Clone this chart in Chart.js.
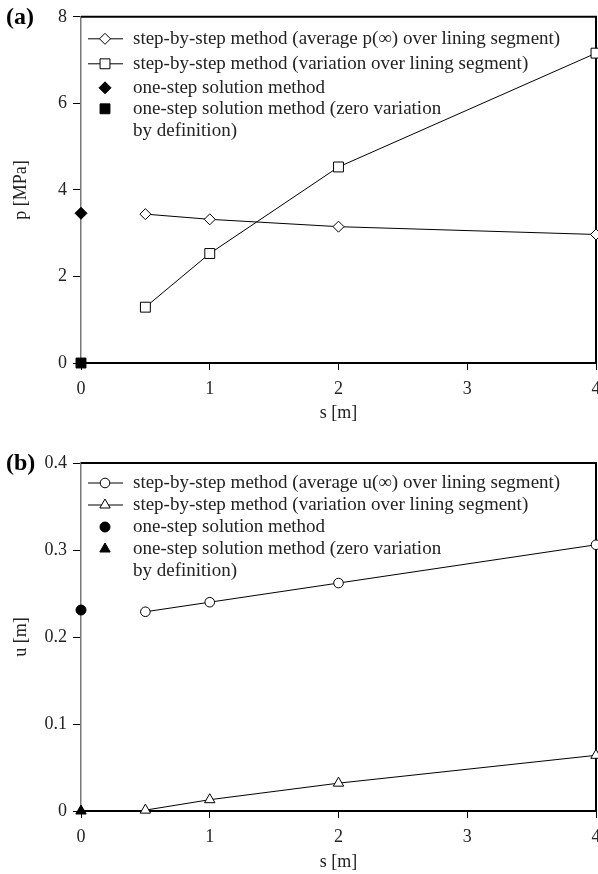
<!DOCTYPE html>
<html>
<head>
<meta charset="utf-8">
<script src="https://cdn.jsdelivr.net/npm/chart.js@4/dist/chart.umd.min.js"></script>
<style>
  html, body { margin: 0; padding: 0; background: #fff; }
  canvas { display: block; }
</style>
</head>
<body>
<canvas id="chartP" width="598" height="437"></canvas>
<canvas id="chartU" width="598" height="437"></canvas>
<script>
// DATA
const sTicks = [0, 1, 2, 3, 4];
const sSteps = [0.5, 1, 2, 4];
const sOneStep = [0];

const pTicks = [0, 2, 4, 6, 8];
const pAverage = [3.44, 3.32, 3.15, 2.97];
const pVariation = [1.29, 2.53, 4.53, 7.16];
const pOneStep = [3.46];
const pOneStepZero = [0];

const uTicks = [0, 0.1, 0.2, 0.3, 0.4];
const uAverage = [0.229, 0.240, 0.262, 0.306];
const uVariation = [0.001, 0.013, 0.032, 0.064];
const uOneStep = [0.231];
const uOneStepZero = [0];

const pLabels = [
  "step-by-step method (average p(\u221e) over lining segment)",
  "step-by-step method (variation over lining segment)",
  "one-step solution method",
  "one-step solution method (zero variation\nby definition)"
];
const uLabels = [
  "step-by-step method (average u(\u221e) over lining segment)",
  "step-by-step method (variation over lining segment)",
  "one-step solution method",
  "one-step solution method (zero variation\nby definition)"
];

const FONT = '"Liberation Serif", "Times New Roman", serif';

function pts(xs, ys) {
  return ys.map((y, i) => ({ x: xs[i], y: y }));
}

// frame (top/right), panel letter and in-plot legend
const framePlugin = {
  id: "frame",
  beforeDatasetsDraw(chart, args, opts) {
    const { ctx, chartArea: a } = chart;
    ctx.save();
    ctx.strokeStyle = "#000";
    ctx.lineWidth = 2;
    ctx.beginPath();
    ctx.moveTo(a.left, a.top);
    ctx.lineTo(a.right, a.top);
    ctx.lineTo(a.right, a.bottom);
    ctx.stroke();

    ctx.fillStyle = "#000";
    ctx.font = "bold 24px " + FONT;
    ctx.textBaseline = "middle";
    ctx.textAlign = "left";
    ctx.fillText(opts.panel, 6, a.top + 1);

    ctx.font = "19px " + FONT;
    let row = 0;
    chart.data.datasets.forEach(ds => {
      const y = a.top + opts.rows[row];
      if (ds.showLine) {
        ctx.strokeStyle = "#000";
        ctx.lineWidth = 1;
        ctx.beginPath();
        ctx.moveTo(88, y);
        ctx.lineTo(123, y);
        ctx.stroke();
      }
      ctx.fillStyle = ds.pointBackgroundColor;
      ctx.strokeStyle = "#000";
      ctx.lineWidth = 1;
      Chart.helpers.drawPoint(ctx, {
        pointStyle: ds.pointStyle,
        radius: ds.pointRadius,
        rotation: 0,
        borderWidth: 1
      }, 105, y);
      ctx.fillStyle = "#222";
      ds.label.split("\n").forEach(line => {
        ctx.fillText(line, 133, a.top + opts.rows[row]);
        row++;
      });
    });
    ctx.restore();
  }
};

function makeChart(id, cfg) {
  return new Chart(document.getElementById(id), {
    type: "scatter",
    data: { datasets: cfg.datasets },
    plugins: [framePlugin],
    options: {
      responsive: false,
      animation: false,
      events: [],
      layout: { autoPadding: false, padding: { top: cfg.top, right: 2, left: 0, bottom: 0 } },
      plugins: {
        legend: { display: false },
        tooltip: { enabled: false },
        frame: { panel: cfg.panel, rows: cfg.rows }
      },
      scales: {
        x: {
          type: "linear",
          min: 0,
          max: 4,
          afterBuildTicks: s => { s.ticks = sTicks.map(v => ({ value: v })); },
          afterFit: s => {
            s.height = cfg.xHeight;
            s.paddingLeft = 0;
            s.paddingRight = 0;
          },
          grid: { drawOnChartArea: false, drawTicks: true, tickLength: 7, color: "#000" },
          border: { color: "#000", width: 2 },
          ticks: { color: "#222", padding: 8, font: { family: FONT, size: 18 } },
          title: {
            display: true,
            text: "s [m]",
            color: "#222",
            font: { family: FONT, size: 18 },
            padding: { top: 0, bottom: cfg.xTitlePad }
          }
        },
        y: {
          type: "linear",
          min: cfg.yTicks[0],
          max: cfg.yTicks[cfg.yTicks.length - 1],
          afterBuildTicks: s => { s.ticks = cfg.yTicks.map(v => ({ value: v })); },
          afterFit: s => { s.width = 81; },
          grid: { drawOnChartArea: false, drawTicks: true, tickLength: 8, color: "#000" },
          border: { color: "#777", width: 1.5 },
          ticks: { color: "#222", padding: 6, font: { family: FONT, size: 18 } },
          title: {
            display: true,
            text: cfg.yTitle,
            color: "#222",
            font: { family: FONT, size: 18 },
            padding: { top: 10, bottom: 0 }
          }
        }
      }
    }
  });
}

function series(label, data, style, radius, fill, line) {
  return {
    label: label,
    data: data,
    showLine: line,
    borderColor: "#000",
    borderWidth: 1,
    pointStyle: style,
    pointRadius: radius,
    pointBackgroundColor: fill,
    pointBorderColor: "#000",
    pointBorderWidth: 1,
    clip: false
  };
}

// (a) PRESSURE
makeChart("chartP", {
  panel: "(a)",
  top: 15,
  xHeight: 74,
  xTitlePad: 13,
  yTicks: pTicks,
  yTitle: "p [MPa]",
  rows: [22, 47, 71, 92, 114],
  datasets: [
    series(pLabels[0], pts(sSteps, pAverage), "rectRot", 5.5, "#fff", true),
    series(pLabels[1], pts(sSteps, pVariation), "rect", 7, "#fff", true),
    series(pLabels[2], pts(sOneStep, pOneStep), "rectRot", 6, "#000", false),
    series(pLabels[3], pts(sOneStep, pOneStepZero), "rect", 7, "#000", false)
  ]
});

// (b) DISPLACEMENT
makeChart("chartU", {
  panel: "(b)",
  top: 26,
  xHeight: 63,
  xTitlePad: 1,
  yTicks: uTicks,
  yTitle: "u [m]",
  rows: [20, 42, 64, 86, 108],
  datasets: [
    series(uLabels[0], pts(sSteps, uAverage), "circle", 4.8, "#fff", true),
    series(uLabels[1], pts(sSteps, uVariation), "triangle", 6, "#fff", true),
    series(uLabels[2], pts(sOneStep, uOneStep), "circle", 5, "#000", false),
    series(uLabels[3], pts(sOneStep, uOneStepZero), "triangle", 6, "#000", false)
  ]
});
</script>
</body>
</html>
